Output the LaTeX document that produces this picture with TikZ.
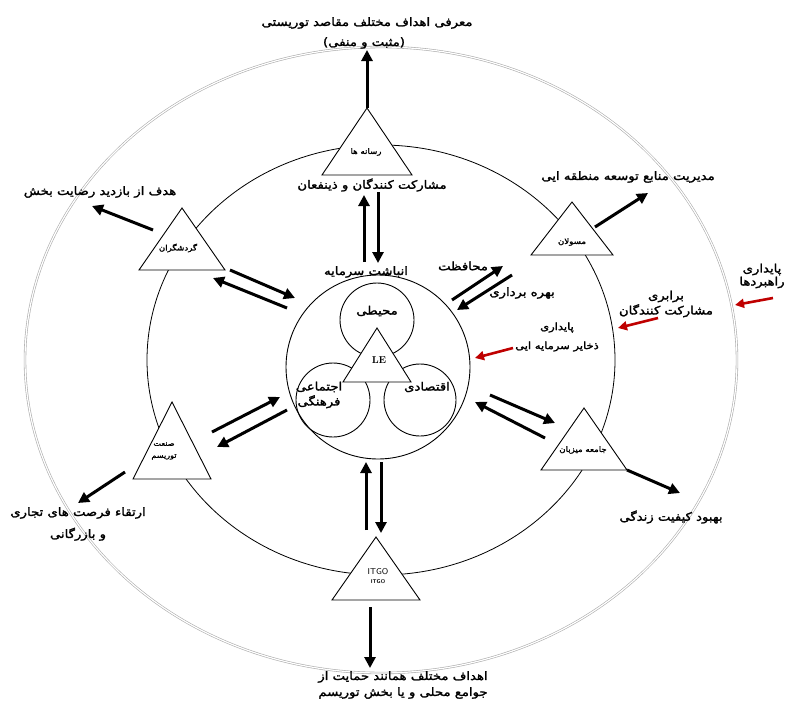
\documentclass[tikz,border=0pt]{standalone}
\usepackage{fontspec}
\newfontfamily\fafont[Script=Arabic,FakeBold=2,FakeStretch=1.15]{DejaVu Sans}
\TeXXeTstate=1
\usetikzlibrary{arrows.meta}
\newcommand\fa[1]{\beginR #1\endR}
\newcommand\tri[4]{\draw[tribox] (#1,#2)--++(#3,#4)--++(-2*#3,0)--cycle;}
\tikzset{
  fat/.style={line width=3pt,-{Triangle[length=11pt,width=11pt]}},
  redarr/.style={line width=2.6pt,draw=red!75!black,-{Triangle[length=9pt,width=9pt]},color=red!75!black},
  tribox/.style={draw,line width=0.9pt,fill=white},
  lbl/.style={font=\fafont\fontsize{11.5}{15}\selectfont,inner sep=0pt,align=center},
  small/.style={font=\fafont\fontsize{7.5}{10}\selectfont,inner sep=0pt,align=center}
}

\begin{document}
\begin{tikzpicture}[x=1pt,y=-1pt]
\useasboundingbox (0,0) rectangle (786,704);

% rings
\draw[gray!65,line width=0.6pt,double=white,double distance=1.2pt] (381,360) ellipse (356 and 313);
\draw[line width=0.8pt] (381,360) ellipse (234 and 215);
\draw[line width=0.9pt] (378,367) circle (92);

% three pillars
\draw[line width=0.9pt] (377,320) circle (37);
\draw[line width=0.9pt] (333,400) circle (37);
\draw[line width=0.9pt] (420,400) circle (36);
\tri{377}{328}{34}{54}

% actors
\tri{367}{108}{45}{67}
\tri{182}{208}{43}{62}
\tri{572}{202}{41}{53}
\tri{172}{402}{39}{77}
\tri{584}{408}{43}{62}
\tri{376}{537}{44}{63}

\node[lbl] (mohiti) at (377,311) {\fa{محیطی}};
\node[font=\bfseries\fontsize{10}{12}\selectfont,inner sep=0pt] (le) at (379,360) {LE};
\node[lbl] (ejtemai) at (319,395) {\fa{اجتماعی}\\\fa{فرهنگی}};
\node[lbl] (eghtesadi) at (427,387) {\fa{اقتصادی}};
\node[lbl] (anbasht) at (366,272) {\fa{انباشت سرمایه}};

\node[small] (rasaneh) at (366,152) {\fa{رسانه ها}};
\node[small] (gardesh) at (178,248) {\fa{گردشگران}};
\node[small] (masoolan) at (572,242) {\fa{مسولان}};
\node[small,font=\fafont\fontsize{7}{12}\selectfont] (sanat) at (164,451) {\fa{صنعت}\\\fa{توریسم}};
\node[small] (jameh) at (583,450) {\fa{جامعه میزبان}};
\node[font=\sffamily\fontsize{8.5}{9}\selectfont,inner sep=0pt] (itgo) at (378,572) {ITGO};
\node[font=\sffamily\bfseries\fontsize{5.5}{6}\selectfont,inner sep=0pt] (itgob) at (378,582) {ITGO};

% goals
\node[lbl] (moarefi) at (367,23) {\fa{معرفی اهداف مختلف مقاصد توریستی}};
\node[lbl] (mosbat) at (364,43) {\fa{(مثبت و منفی)}};
\node[lbl] (mosharekat) at (372,185) {\fa{مشارکت کنندگان و ذینفعان}};
\node[lbl] (hadaf) at (100,192) {\fa{هدف از بازدید رضایت بخش}};
\node[lbl] (modiriat) at (628,177) {\fa{مدیریت منابع توسعه منطقه ایی}};
\node[lbl] (mohafezat) at (463,266) {\fa{محافظت}};
\node[lbl] (bahreh) at (522,293) {\fa{بهره برداری}};
\node[lbl,font=\fafont\fontsize{10}{19}\selectfont] (paydari) at (557,337) {\fa{پایداری}\\\fa{ذخایر سرمایه ایی}};
\node[lbl] (barabari) at (666,304) {\fa{برابری}\\\fa{مشارکت کنندگان}};
\node[lbl,font=\fafont\fontsize{11.5}{13}\selectfont] (rahbord) at (762,276) {\fa{پایداری}\\\fa{راهبردها}};
\node[lbl,font=\fafont\fontsize{11.5}{22}\selectfont] (ertegha) at (78,524) {\fa{ارتقاء فرصت های تجاری}\\\fa{و بازرگانی}};
\node[lbl] (behbood) at (671,517) {\fa{بهبود کیفیت زندگی}};
\node[lbl,font=\fafont\fontsize{11.5}{16}\selectfont] (ahdaf) at (403,685) {\fa{اهداف مختلف همانند حمایت از}\\\fa{جوامع محلی و یا بخش توریسم}};

% arrow ends
\coordinate (r0) at (367,108); \coordinate (r1) at (367,50);
\coordinate (ru0) at (364,262); \coordinate (ru1) at (364,195);
\coordinate (rd0) at (378,192); \coordinate (rd1) at (378,263);
\coordinate (g0) at (153,230); \coordinate (g1) at (92,206);
\coordinate (gi0) at (230,270); \coordinate (gi1) at (295,298);
\coordinate (go0) at (287,308); \coordinate (go1) at (213,278);
\coordinate (si0) at (212,432); \coordinate (si1) at (280,397);
\coordinate (so0) at (287,410); \coordinate (so1) at (217,447);
\coordinate (s0) at (125,472); \coordinate (s1) at (78,503);
\coordinate (m0) at (595,227); \coordinate (m1) at (648,193);
\coordinate (mi0) at (452,300); \coordinate (mi1) at (503,266);
\coordinate (mo0) at (512,275); \coordinate (mo1) at (457,310);
\coordinate (ji0) at (490,395); \coordinate (ji1) at (555,423);
\coordinate (jo0) at (545,438); \coordinate (jo1) at (475,402);
\coordinate (j0) at (627,470); \coordinate (j1) at (680,493);
\coordinate (iu0) at (366,530); \coordinate (iu1) at (366,462);
\coordinate (id0) at (381,462); \coordinate (id1) at (381,533);
\coordinate (i0) at (370,607); \coordinate (i1) at (370,668);
\coordinate (p0) at (513,348); \coordinate (p1) at (475,358);
\coordinate (b0) at (658,318); \coordinate (b1) at (618,328);
\coordinate (h0) at (773,298); \coordinate (h1) at (735,305);

\draw[fat] (r0)--(r1);
\draw[fat] (ru0)--(ru1);
\draw[fat] (rd0)--(rd1);
\draw[fat] (g0)--(g1);
\draw[fat] (gi0)--(gi1);
\draw[fat] (go0)--(go1);
\draw[fat] (si0)--(si1);
\draw[fat] (so0)--(so1);
\draw[fat] (s0)--(s1);
\draw[fat] (m0)--(m1);
\draw[fat] (mi0)--(mi1);
\draw[fat] (mo0)--(mo1);
\draw[fat] (ji0)--(ji1);
\draw[fat] (jo0)--(jo1);
\draw[fat] (j0)--(j1);
\draw[fat] (iu0)--(iu1);
\draw[fat] (id0)--(id1);
\draw[fat] (i0)--(i1);
\draw[redarr] (p0)--(p1);
\draw[redarr] (b0)--(b1);
\draw[redarr] (h0)--(h1);
\end{tikzpicture}
\end{document}
